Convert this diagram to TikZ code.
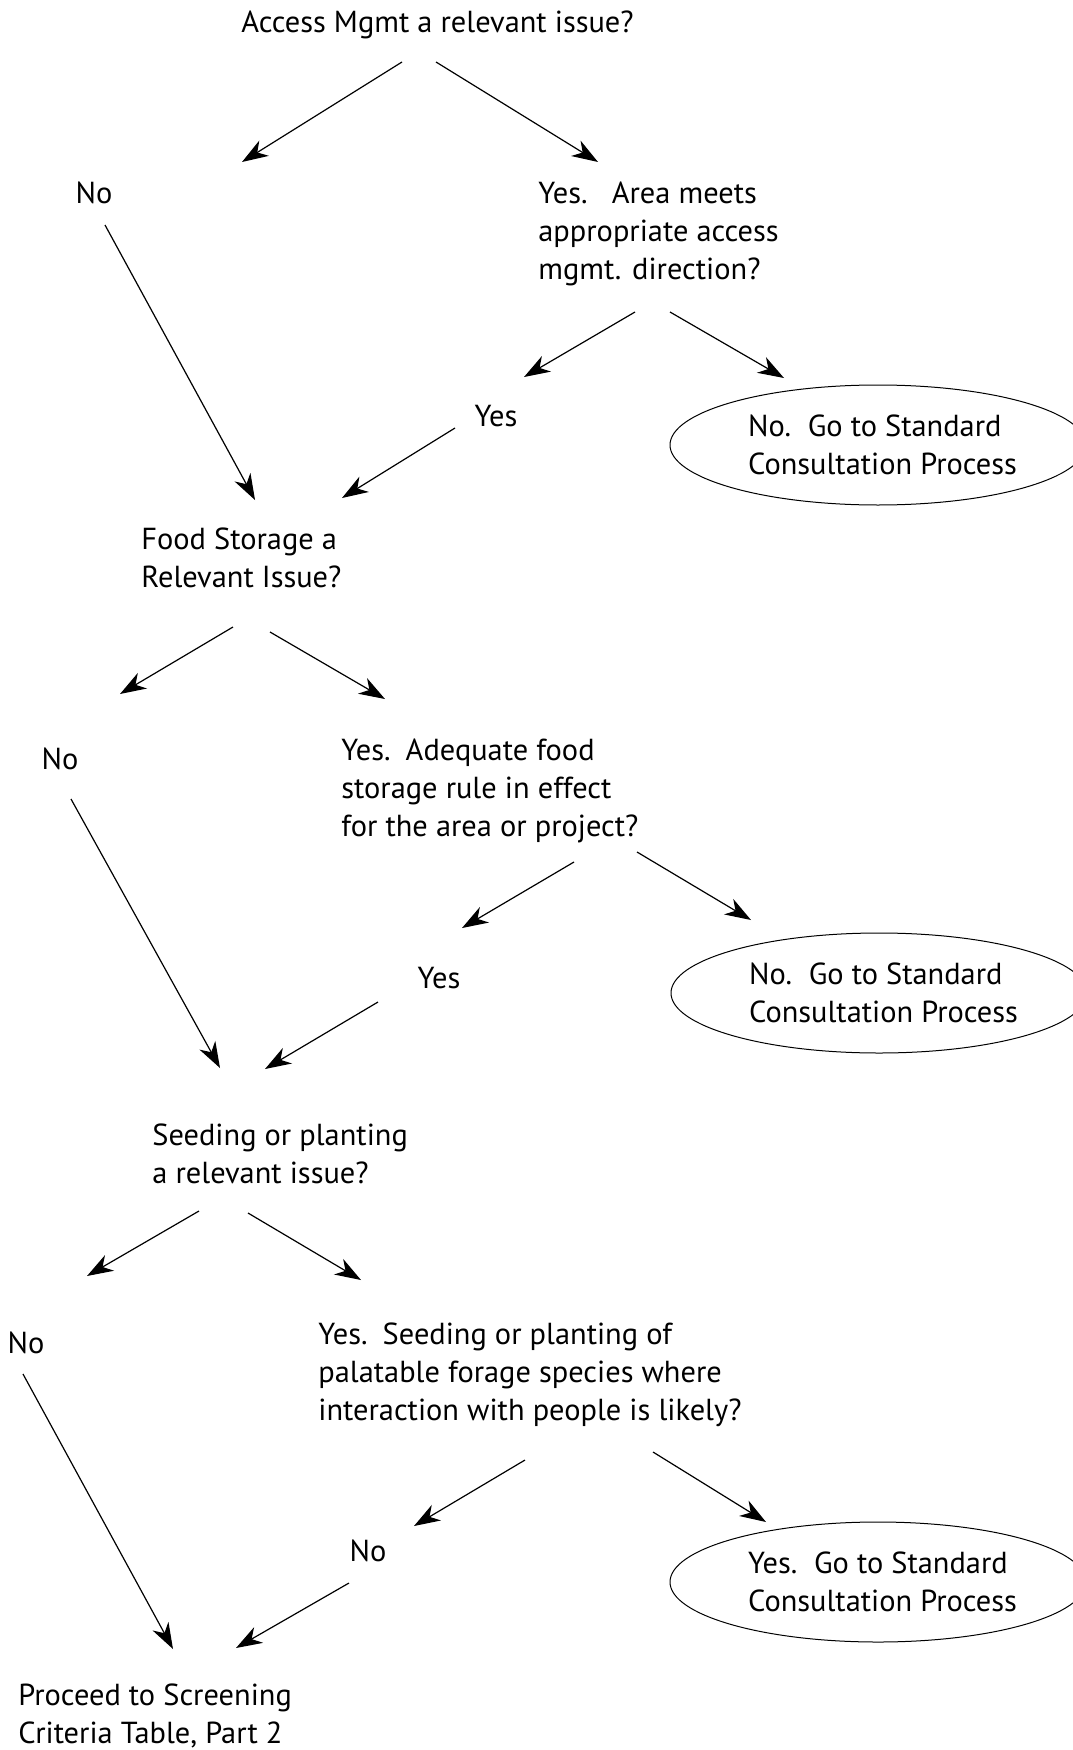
\documentclass[tikz,border=0pt]{standalone}
\usepackage{fontspec}
\setmainfont{PT Sans}
\usetikzlibrary{arrows.meta,shapes.geometric}

\tikzset{
  txt/.style={inner sep=0pt,align=left,anchor=west,font=\fontsize{15.2}{19}\selectfont},
  ans/.style={inner sep=0pt,font=\fontsize{15.2}{19}\selectfont},
  endbox/.style={draw,ellipse,line width=0.5pt,inner sep=0pt,minimum width=208pt,minimum height=60pt,align=left,font=\fontsize{15.2}{19}\selectfont},
  arr/.style={line width=0.6pt,-{Stealth[length=13pt,width=9pt,inset=4pt]}}
}

\begin{document}
\begin{tikzpicture}[x=0.5pt,y=-0.5pt]
  \useasboundingbox (0,0) rectangle (1072,1750);

  % questions and answers
  \node[txt] (q1) at (241,25) {Access Mgmt a relevant issue?};
  \node[ans] (no1) at (94,193) {No};
  \node[txt] (y1) at (538,234) {Yes.\hspace{0.8em}Area meets\\appropriate access\\mgmt. direction?};
  \node[ans] (yes1) at (496,416) {Yes};
  \node[endbox] (e1) at (878,445) {\hspace{0.3em}No.\hspace{0.55em}Go to Standard\\\hspace{0.3em}Consultation Process};

  \node[txt] (q2) at (141,558) {Food Storage a\\Relevant Issue?};
  \node[ans] (no2) at (60,759) {No};
  \node[txt] (y2) at (341,791) {Yes.\hspace{0.5em}Adequate food\\storage rule in effect\\for the area or project?};
  \node[ans] (yes2) at (439,978) {Yes};
  \node[endbox] (e2) at (879,993) {\hspace{0.3em}No.\hspace{0.55em}Go to Standard\\\hspace{0.3em}Consultation Process};

  \node[txt] (q3) at (152,1154) {Seeding or planting\\a relevant issue?};
  \node[ans] (no3) at (26,1343) {No};
  \node[txt] (y3) at (318,1375) {Yes.\hspace{0.5em}Seeding or planting of\\palatable forage species where\\interaction with people is likely?};
  \node[ans] (no4) at (368,1551) {No};
  \node[endbox] (e3) at (878,1582) {\hspace{0.3em}Yes.\hspace{0.55em}Go to Standard\\\hspace{0.3em}Consultation Process};

  \node[txt] (fin) at (18,1716) {Proceed to Screening\\Criteria Table, Part 2};

  % arrow ends
  \coordinate (q1a) at (402,62);   \coordinate (no1t) at (242,162);
  \coordinate (q1b) at (436,62);   \coordinate (y1t) at (598,162);
  \coordinate (no1b) at (105,225); \coordinate (q2l) at (255,500);
  \coordinate (y1a) at (635,312);  \coordinate (yes1t) at (524,377);
  \coordinate (y1b) at (670,312);  \coordinate (e1t) at (784,378);
  \coordinate (yes1b) at (455,428); \coordinate (q2r) at (342,498);

  \coordinate (q2a) at (233,627);  \coordinate (no2t) at (120,694);
  \coordinate (q2b) at (270,632);  \coordinate (y2t) at (385,699);
  \coordinate (no2b) at (71,799);  \coordinate (q3l) at (220,1068);
  \coordinate (y2a) at (574,862);  \coordinate (yes2t) at (462,928);
  \coordinate (y2b) at (637,852);  \coordinate (e2t) at (751,920);
  \coordinate (yes2b) at (378,1002); \coordinate (q3r) at (265,1069);

  \coordinate (q3a) at (199,1211); \coordinate (no3t) at (87,1276);
  \coordinate (q3b) at (248,1213); \coordinate (y3t) at (361,1280);
  \coordinate (no3b) at (23,1374); \coordinate (finl) at (173,1649);
  \coordinate (y3a) at (525,1460); \coordinate (no4t) at (414,1526);
  \coordinate (y3b) at (653,1452); \coordinate (e3t) at (766,1522);
  \coordinate (no4b) at (349,1583); \coordinate (finr) at (236,1648);

  \foreach \s/\e in {q1a/no1t,q1b/y1t,no1b/q2l,y1a/yes1t,y1b/e1t,yes1b/q2r,
                     q2a/no2t,q2b/y2t,no2b/q3l,y2a/yes2t,y2b/e2t,yes2b/q3r,
                     q3a/no3t,q3b/y3t,no3b/finl,y3a/no4t,y3b/e3t,no4b/finr}
    \draw[arr] (\s) -- (\e);
\end{tikzpicture}
\end{document}
